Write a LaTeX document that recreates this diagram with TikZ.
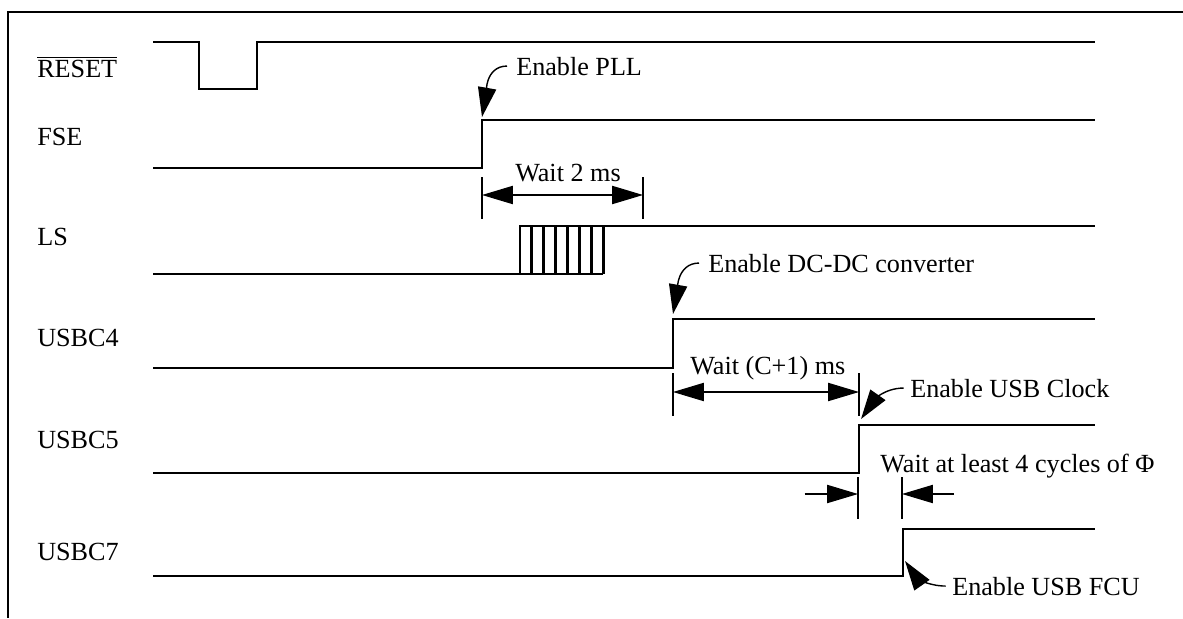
\documentclass[tikz,border=0pt]{standalone}
\usepackage{fontspec}
\setmainfont{Liberation Serif}
\usetikzlibrary{arrows.meta}

\begin{document}
\begin{tikzpicture}[
    x=0.025cm, y=-0.025cm,
    wave/.style={draw, line width=2.1pt},
    boxline/.style={draw, line width=0.9pt},
    signame/.style={anchor=base west, inner sep=0pt, font=\fontsize{18.6}{22}\selectfont},
    note/.style={anchor=base west, inner sep=0pt, font=\fontsize{18.6}{22}\selectfont},
    ticklin/.style={draw, line width=0.8pt},
    dim/.style={draw, line width=0.8pt, {Triangle[length=22pt,width=13pt]}-{Triangle[length=22pt,width=13pt]}},
    stopper/.style={draw, line width=0.8pt, -{Triangle[length=22pt,width=13pt]}},
    hint/.style={draw, line width=1pt, -{Triangle[length=21pt,width=13pt]}}
]
\useasboundingbox (0,0) rectangle (1183,618);

% Frame
\draw[boxline] (1183,12) -- (8,12) -- (8,618);

% Signal names
\node[signame] (reset) at (37,77) {$\overline{\mbox{RESET}}$};
\node[signame] (fse) at (37,145) {FSE};
\node[signame] (ls) at (37,245) {LS};
\node[signame] (usbc4) at (37,346) {USBC4};
\node[signame] (usbc5) at (37,448) {USBC5};
\node[signame] (usbc7) at (37,560) {USBC7};

% Waveforms
\draw[wave] (153,42) -- (199,42) -- (199,89) -- (257,89) -- (257,42) -- (1095,42);
\draw[wave] (153,168) -- (482,168) -- (482,120) -- (1095,120);
\draw[wave] (153,274) -- (603,274);
\draw[wave] (520,274) -- (520,226) -- (1095,226);
\foreach \i in {1,...,7}
    \draw[wave] (520+\i*11.86,274) -- (520+\i*11.86,226);
\draw[wave] (153,368) -- (673,368) -- (673,319) -- (1095,319);
\draw[wave] (153,473) -- (859,473) -- (859,425) -- (1095,425);
\draw[wave] (153,576) -- (903,576) -- (903,529) -- (1095,529);

% Edge points
\coordinate (pllEdge) at (482,117);
\coordinate (dcdcEdge) at (673,314);
\coordinate (clkEdge) at (861,419);
\coordinate (fcuEdge) at (905,561);

% Annotations
\node[note] (pll) at (516,75) {Enable PLL};
\node[note] (dcdc) at (708,272) {Enable DC-DC converter};
\node[note] (usbclk) at (910,397) {Enable USB Clock};
\node[note] (fcu) at (952,595) {Enable USB FCU};

\draw[hint] ([xshift=-6.4pt]pll.west) to[out=180, in=80] (pllEdge);
\draw[hint] ([xshift=-6.4pt]dcdc.west) to[out=180, in=80] (dcdcEdge);
\draw[hint] ([xshift=-4.5pt]usbclk.west) to[out=180, in=55] (clkEdge);
\draw[hint] ([xshift=-4.5pt]fcu.west) to[out=180, in=-55] (fcuEdge);

% Wait 2 ms
\node[note] (wait2) at (515,181) {Wait 2 ms};
\coordinate (w2a) at (482,195);
\coordinate (w2b) at (643,195);
\draw[ticklin] (482,177) -- (482,219);
\draw[ticklin] (643,177) -- (643,219);
\draw[dim] (w2a) -- (w2b);

% Wait (C+1) ms
\node[note] (waitc) at (690,374) {Wait (C+1) ms};
\coordinate (wca) at (673,392);
\coordinate (wcb) at (859,392);
\draw[ticklin] (673,373) -- (673,416);
\draw[ticklin] (859,373) -- (859,416);
\draw[dim] (wca) -- (wcb);

% Wait at least 4 cycles
\node[note] (waitphi) at (880,472) {Wait at least 4 cycles of Φ};
\coordinate (wpa) at (858,494);
\coordinate (wpb) at (902,494);
\draw[ticklin] (858,477) -- (858,519);
\draw[ticklin] (902,477) -- (902,519);
\draw[stopper] ([xshift=-38pt]wpa) -- (wpa);
\draw[stopper] ([xshift=37pt]wpb) -- (wpb);

\end{tikzpicture}
\end{document}
